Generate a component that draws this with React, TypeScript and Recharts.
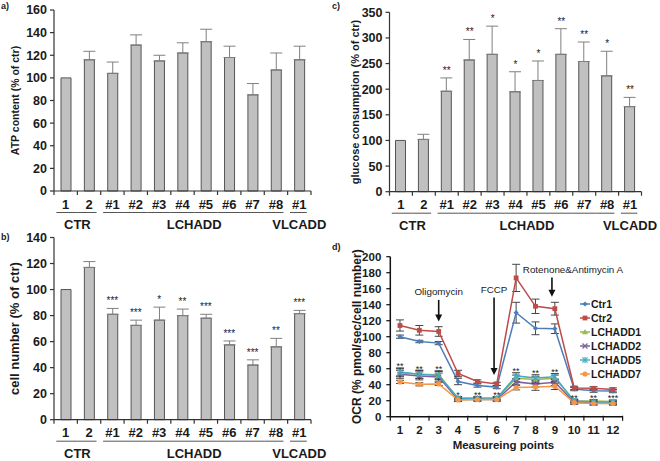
import React from 'react';
import {
  ComposedChart, LineChart, Bar, Line, XAxis, YAxis, ErrorBar, LabelList,
  ReferenceLine, Legend,
} from 'recharts';

const FONT = '"Liberation Sans", Arial, Helvetica, sans-serif';
const TXT = '#1a1a1a';
const AX = '#333333';

// ---------- bar panels (a, b, c) ----------
const barLabels = ['1', '2', '#1', '#2', '#3', '#4', '#5', '#6', '#7', '#8', '#1'];
const barGroups = ['CTR', 'CTR', 'LCHADD', 'LCHADD', 'LCHADD', 'LCHADD', 'LCHADD', 'LCHADD', 'LCHADD', 'LCHADD', 'VLCADD'];

const atpValues = [100, 116, 104, 129, 115, 122, 132, 118, 85, 107, 116];
const atpErrors = [0, 7.5, 10, 9, 5, 9, 11, 10, 10, 15, 12];
const atpStars = ['', '', '', '', '', '', '', '', '', '', ''];
const atpTicks = [0, 20, 40, 60, 80, 100, 120, 140, 160];

const cellValues = [100, 117, 81, 72.5, 76.5, 80, 78, 57.5, 42, 56, 81.5];
const cellErrors = [0, 4.5, 4.5, 4, 10, 5, 3, 3, 4, 6.5, 2.5];
const cellStars = ['', '', '***', '***', '*', '**', '***', '***', '***', '**', '***'];
const cellTicks = [0, 20, 40, 60, 80, 100, 120, 140];

const glucoseValues = [100, 102, 196, 257, 268, 195, 217, 268, 254, 226, 166];
const glucoseErrors = [0, 10, 26, 40, 55, 39, 38, 50, 38, 48, 18];
const glucoseStars = ['', '', '**', '**', '*', '*', '*', '**', '**', '*', '**'];
const glucoseTicks = [0, 50, 100, 150, 200, 250, 300, 350];

// ---------- OCR panel (d) ----------
const ocrPoints = [1, 2, 3, 4, 5, 6, 7, 8, 9, 10, 11, 12];
const ocrTicks = [0, 20, 40, 60, 80, 100, 120, 140, 160, 180, 200];
const ctr1 = [100, 94, 92, 44, 39, 37, 130, 110.5, 110, 34.5, 32.5, 32];
const ctr1Err = [2, 1.5, 2, 4, 2, 2, 13, 8, 6, 2, 2, 2];
const ctr2 = [114, 108, 106.5, 54, 44, 41, 173.5, 138, 135, 36, 35.5, 34];
const ctr2Err = [7, 6, 6, 4, 2, 2, 17, 9, 8, 2, 2, 2];
const lchadd1 = [55, 53, 52.5, 23, 23, 23, 48, 46.5, 48, 20, 19.5, 19];
const lchadd1Err = [5, 5, 5, 2, 2, 2, 4, 4, 4, 2, 2, 2];
const lchadd2 = [53, 51, 49.5, 21.5, 21.5, 21.5, 43.5, 41, 43, 18, 17, 17];
const lchadd2Err = [5, 5, 5, 2, 2, 2, 4, 4, 4, 2, 2, 2];
const lchadd5 = [56, 53, 51.5, 23, 23, 23, 51, 48.5, 50, 19.5, 18.5, 18];
const lchadd5Err = [5, 5, 5, 2, 2, 2, 4, 4, 4, 2, 2, 2];
const lchadd7 = [43.5, 40.5, 41, 21, 21.5, 21.5, 36.5, 37, 38, 17.5, 16.5, 16.5];
const lchadd7Err = [2, 2, 2, 2, 2, 2, 3, 4, 4, 2, 2, 2];
const ocrStars = ['**', '**', '**', '*', '**', '**', '**', '**', '**', '**', '**', '***'];

const injections = [
  { label: 'Oligomycin', x: 3, from: 146, to: 119, dx: 0 },
  { label: 'FCCP', x: 5.86, from: 149, to: 52, dx: 0 },
  { label: 'Rotenone&Antimycin A', x: 8.85, from: 174, to: 150, dx: 21 },
];

const series = [
  { key: 'Ctr1', values: ctr1, errors: ctr1Err, color: '#4a7ebb', marker: 'diamond' },
  { key: 'Ctr2', values: ctr2, errors: ctr2Err, color: '#be4b48', marker: 'square' },
  { key: 'LCHADD1', values: lchadd1, errors: lchadd1Err, color: '#98b954', marker: 'triangle' },
  { key: 'LCHADD2', values: lchadd2, errors: lchadd2Err, color: '#7d60a0', marker: 'cross' },
  { key: 'LCHADD5', values: lchadd5, errors: lchadd5Err, color: '#46aac5', marker: 'star' },
  { key: 'LCHADD7', values: lchadd7, errors: lchadd7Err, color: '#f79646', marker: 'circle' },
];
const lchaddKeys = ['LCHADD1', 'LCHADD2', 'LCHADD5', 'LCHADD7'];

// ---------- helpers ----------
const groupRanges: { name: string; from: number; to: number }[] = [];
barGroups.forEach((g, i) => {
  const last = groupRanges[groupRanges.length - 1];
  if (last && last.name === g) last.to = i;
  else groupRanges.push({ name: g, from: i, to: i });
});

function buildBarRows(values: number[], errors: number[], stars: string[]) {
  return barLabels.map((l, i) => ({
    id: String(i),
    v: values[i],
    e: errors[i] > 0 ? [0, errors[i]] : null,
    top: values[i] + errors[i],
    stars: stars[i],
  }));
}

const ocrRows = ocrPoints.map((p, i) => {
  const row: any = { x: p, stars: ocrStars[i] };
  series.forEach((s) => {
    row[s.key] = s.values[i];
    row[s.key + 'E'] = s.errors[i];
  });
  row.starTop = Math.max(...lchaddKeys.map((k) => row[k] + row[k + 'E']));
  return row;
});

function BarTick(props: any) {
  const { x, y, index, band } = props;
  const n = barLabels.length;
  const g = groupRanges.find((r) => index >= r.from && index <= r.to)!;
  const left = index === g.from ? x - band * 0.4 : x - band / 2;
  const right = index === g.to ? x + band * 0.32 : x + band / 2;
  return (
    <g>
      <line x1={x - band / 2} x2={x - band / 2} y1={y} y2={y + 4} stroke={AX} strokeWidth={1.2} />
      {index === n - 1 && (
        <line x1={x + band / 2} x2={x + band / 2} y1={y} y2={y + 4} stroke={AX} strokeWidth={1.2} />
      )}
      <text x={x} y={y + 17.5} textAnchor="middle" fontSize={13} fontWeight={700} fill={TXT} fontFamily={FONT}>
        {barLabels[index]}
      </text>
      <line x1={left} x2={right} y1={y + 21.5} y2={y + 21.5} stroke="#555" strokeWidth={1} />
      {index === g.from && (
        <text x={x + ((g.to - g.from) / 2) * band} y={y + 38} textAnchor="middle" fontSize={13}
          fontWeight={700} fill={TXT} fontFamily={FONT}>
          {g.name}
        </text>
      )}
    </g>
  );
}

const yLabel = (text: string, dx: number, fs: number) => (props: any) => {
  const vb = props.viewBox;
  const x = vb.x + dx;
  const y = vb.y + vb.height / 2;
  return (
    <text x={x} y={y} transform={`rotate(-90 ${x} ${y})`} textAnchor="middle" dominantBaseline="central"
      fontSize={fs} fontWeight={700} fill={TXT} fontFamily={FONT}>
      {text}
    </text>
  );
};

const StarLabel = (dy: number, fs: number) => (props: any) => {
  const { x, y, value } = props;
  if (!value) return null;
  return (
    <text x={x} y={y + dy} textAnchor="middle" fontSize={fs} fill="#222" fontFamily={FONT}>
      {value}
    </text>
  );
};

type BarPanelProps = {
  values: number[]; errors: number[]; stars: string[]; ticks: number[];
  width: number; height: number; top: number; right: number; yWidth: number; xHeight: number;
  yText: string; yDx: number; yFs: number;
};

function BarPanel(p: BarPanelProps) {
  const rows = buildBarRows(p.values, p.errors, p.stars);
  const band = (p.width - p.right - p.yWidth) / barLabels.length;
  return (
    <ComposedChart width={p.width} height={p.height} data={rows}
      margin={{ top: p.top, right: p.right, bottom: 0, left: 0 }}>
      <XAxis dataKey="id" type="category" height={p.xHeight} interval={0} tickLine={false}
        tickSize={0} tickMargin={0} axisLine={{ stroke: AX, strokeWidth: 1.2 }}
        tick={(tp: any) => <BarTick {...tp} band={band} />} />
      <YAxis type="number" domain={[p.ticks[0], p.ticks[p.ticks.length - 1]]} ticks={p.ticks}
        width={p.yWidth} tickSize={4} tickMargin={3} interval={0}
        axisLine={{ stroke: AX, strokeWidth: 1.2 }} tickLine={{ stroke: AX, strokeWidth: 1.2 }}
        tick={{ fontSize: 12.5, fontWeight: 700, fill: TXT, fontFamily: FONT }}
        label={yLabel(p.yText, p.yDx, p.yFs)} />
      <Bar dataKey="v" barSize={10} fill="#c0c0c0" stroke="#555" strokeWidth={1} isAnimationActive={false}>
        <ErrorBar dataKey="e" width={6} stroke="#808080" strokeWidth={1} direction="y" />
      </Bar>
      <Line dataKey="top" stroke="none" dot={false} activeDot={false} isAnimationActive={false} legendType="none">
        <LabelList dataKey="stars" content={StarLabel(-4, 10)} />
      </Line>
    </ComposedChart>
  );
}

function Marker({ kind, cx, cy, color }: any) {
  if (cx == null || cy == null) return <g />;
  const s = 2.6;
  switch (kind) {
    case 'diamond':
      return <polygon points={`${cx},${cy - s} ${cx + s},${cy} ${cx},${cy + s} ${cx - s},${cy}`} fill={color} />;
    case 'square':
      return <rect x={cx - 2.4} y={cy - 2.4} width={4.8} height={4.8} fill={color} />;
    case 'triangle':
      return <polygon points={`${cx},${cy - 3} ${cx + 3},${cy + 2.2} ${cx - 3},${cy + 2.2}`} fill={color} />;
    case 'cross':
      return (
        <g stroke={color} strokeWidth={1.3}>
          <line x1={cx - 2.5} y1={cy - 2.5} x2={cx + 2.5} y2={cy + 2.5} />
          <line x1={cx - 2.5} y1={cy + 2.5} x2={cx + 2.5} y2={cy - 2.5} />
        </g>
      );
    case 'star':
      return (
        <g stroke={color} strokeWidth={1.2}>
          <line x1={cx - 2.6} y1={cy - 2.6} x2={cx + 2.6} y2={cy + 2.6} />
          <line x1={cx - 2.6} y1={cy + 2.6} x2={cx + 2.6} y2={cy - 2.6} />
          <line x1={cx} y1={cy - 3} x2={cx} y2={cy + 3} />
        </g>
      );
    default:
      return <circle cx={cx} cy={cy} r={2.6} fill={color} />;
  }
}

function OcrTick(props: any) {
  const { x, y, index, band, payload } = props;
  const n = ocrPoints.length;
  return (
    <g>
      <line x1={x - band / 2} x2={x - band / 2} y1={y - 1} y2={y + 4} stroke="#111" strokeWidth={1.2} />
      {index === n - 1 && (
        <line x1={x + band / 2} x2={x + band / 2} y1={y - 1} y2={y + 4} stroke="#111" strokeWidth={1.2} />
      )}
      <text x={x} y={y + 17} textAnchor="middle" fontSize={11.5} fontWeight={700} fill={TXT} fontFamily={FONT}>
        {payload.value}
      </text>
    </g>
  );
}

function InjectionArrow(props: any) {
  const { x1, y1, x2, y2, label, dx } = props;
  const head = 7;
  return (
    <g>
      <line x1={x1} y1={y1} x2={x2} y2={y2 - head + 1} stroke="#111" strokeWidth={1.6} />
      <polygon points={`${x2 - 3.5},${y2 - head} ${x2 + 3.5},${y2 - head} ${x2},${y2}`} fill="#111" />
      <text x={x1 + dx} y={y1 - 5} textAnchor="middle" fontSize={9.8} fill={TXT} fontFamily={FONT}>
        {label}
      </text>
    </g>
  );
}

function OcrLegend() {
  return (
    <div style={{ fontFamily: FONT }}>
      {series.map((s) => (
        <div key={s.key} style={{ display: 'flex', alignItems: 'center', height: 14 }}>
          <svg width={12} height={14} style={{ display: 'block' }}>
            <line x1={1} x2={11} y1={7} y2={7} stroke={s.color} strokeWidth={1.5} />
            <Marker kind={s.marker} cx={6} cy={7} color={s.color} />
          </svg>
          <span style={{ fontSize: 10.5, fontWeight: 700, color: TXT, marginLeft: 0, lineHeight: '14px' }}>
            {s.key}
          </span>
        </div>
      ))}
    </div>
  );
}

function OcrPanel() {
  const W = 330, H = 231, R = 37.4, YW = 60.3;
  const band = (W - R - YW) / ocrPoints.length;
  return (
    <LineChart width={W} height={H} data={ocrRows} margin={{ top: 26.7, right: R, bottom: 0, left: 0 }}>
      <XAxis dataKey="x" type="number" domain={[0.5, 12.5]} ticks={ocrPoints} interval={0}
        height={44.3} tickLine={false} tickSize={0} tickMargin={0}
        axisLine={{ stroke: '#111', strokeWidth: 1.5 }}
        tick={(tp: any) => <OcrTick {...tp} band={band} />}
        label={(lp: any) => {
          const vb = lp.viewBox;
          return (
            <text x={vb.x + vb.width / 2 - 3} y={vb.y + 32} textAnchor="middle" fontSize={11.5}
              fontWeight={700} fill={TXT} fontFamily={FONT}>
              Measureing points
            </text>
          );
        }} />
      <YAxis type="number" domain={[0, 200]} ticks={ocrTicks} width={YW} interval={0}
        tickSize={4} tickMargin={5} axisLine={{ stroke: '#111', strokeWidth: 1.5 }}
        tickLine={{ stroke: '#111', strokeWidth: 1.2 }}
        tick={{ fontSize: 11.5, fontWeight: 700, fill: TXT, fontFamily: FONT }}
        label={yLabel('OCR (% pmol/sec/cell number)', 27, 12)} />
      {injections.map((inj) => (
        <ReferenceLine key={inj.label} segment={[{ x: inj.x, y: inj.from }, { x: inj.x, y: inj.to }]}
          ifOverflow="visible"
          shape={(sp: any) => <InjectionArrow {...sp} label={inj.label} dx={inj.dx} />} />
      ))}
      {series.map((s) => (
        <Line key={s.key} dataKey={s.key} stroke={s.color} strokeWidth={1.5} isAnimationActive={false}
          activeDot={false}
          dot={(dp: any) => <Marker key={`${s.key}-${dp.index}`} kind={s.marker} cx={dp.cx} cy={dp.cy} color={s.color} />}>
          <ErrorBar dataKey={s.key + 'E'} width={4} stroke="#333" strokeWidth={0.9} direction="y" />
        </Line>
      ))}
      <Line dataKey="starTop" stroke="none" dot={false} activeDot={false} isAnimationActive={false} legendType="none">
        <LabelList dataKey="stars" content={StarLabel(1.5, 9)} />
      </Line>
      <Legend layout="vertical" align="center" verticalAlign="middle"
        wrapperStyle={{ left: 249, top: 67, width: 80 }} content={() => <OcrLegend />} />
    </LineChart>
  );
}

const panelLabel: React.CSSProperties = {
  position: 'absolute', fontFamily: FONT, fontWeight: 700, fontSize: 9, color: TXT, lineHeight: '10px',
};

export default function App() {
  return (
    <div style={{ position: 'absolute', left: 0, top: 0, width: 660, height: 461, background: '#fff', overflow: 'hidden', opacity: 0.999 }}>
      <div style={{ position: 'absolute', left: 0, top: 0 }}>
        <BarPanel values={atpValues} errors={atpErrors} stars={atpStars} ticks={atpTicks}
          width={330} height={240} top={10} right={19} yWidth={54} xHeight={49}
          yText="ATP content  (% of ctr)" yDx={15} yFs={10.5} />
      </div>
      <div style={{ position: 'absolute', left: 330, top: 0 }}>
        <BarPanel values={glucoseValues} errors={glucoseErrors} stars={glucoseStars} ticks={glucoseTicks}
          width={330} height={240} top={12.3} right={18.5} yWidth={59.5} xHeight={48.3}
          yText="glucose consumption (% of ctr)" yDx={25} yFs={11} />
      </div>
      <div style={{ position: 'absolute', left: 0, top: 230 }}>
        <BarPanel values={cellValues} errors={cellErrors} stars={cellStars} ticks={cellTicks}
          width={330} height={231} top={7.5} right={19} yWidth={54} xHeight={41.3}
          yText="cell number (% of ctr)" yDx={15} yFs={13} />
      </div>
      <div style={{ position: 'absolute', left: 330, top: 230 }}>
        <OcrPanel />
      </div>
      <div style={{ ...panelLabel, left: 1, top: 1 }}>a)</div>
      <div style={{ ...panelLabel, left: 1, top: 232 }}>b)</div>
      <div style={{ ...panelLabel, left: 332, top: 1 }}>c)</div>
      <div style={{ ...panelLabel, left: 332, top: 242 }}>d)</div>
    </div>
  );
}
